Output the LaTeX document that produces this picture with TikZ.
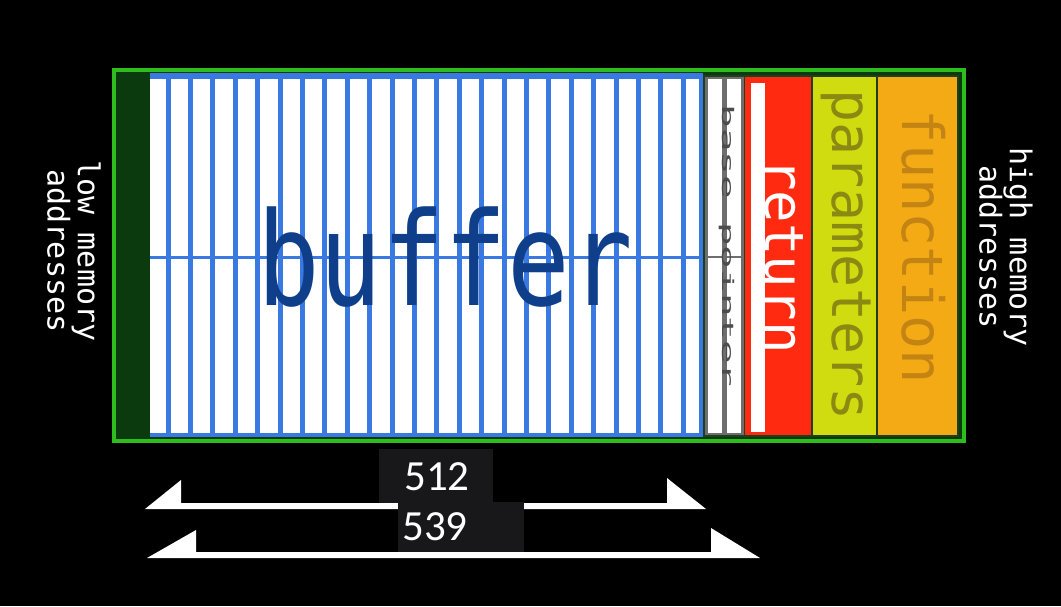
\documentclass[tikz,border=0pt]{standalone}
\usepackage{fontspec}
\setmainfont{Carlito}
\newfontfamily\monofont{DejaVu Sans Mono}
\usepackage{tikz}
\usepackage{xcolor}
\usetikzlibrary{positioning}

\definecolor{framegreen}{HTML}{2DBE1E}
\definecolor{stripgreen}{HTML}{0A3A0E}
\definecolor{sepgreen}{HTML}{1E3E1E}
\definecolor{barblue}{HTML}{3A78E2}
\definecolor{bufblue}{HTML}{0F3F8A}
\definecolor{ptrgray}{HTML}{6E6E6E}
\definecolor{retred}{HTML}{FF2A10}
\definecolor{paryellow}{HTML}{D0DC10}
\definecolor{parolive}{HTML}{8A8A12}
\definecolor{funcorange}{HTML}{F4AA14}
\definecolor{funcbrown}{HTML}{C48414}
\definecolor{boxgray}{HTML}{18181A}

\tikzset{
  vlabel/.style={rotate=-90,inner sep=0pt,anchor=base},
  sidelabel/.style={rotate=-90,inner sep=0pt,align=center,text=white,
    font=\monofont\fontsize{30}{29}\selectfont},
  column/.style={draw=sepgreen,line width=1.2pt},
  numtext/.style={text=white,inner sep=0pt,font=\fontsize{43}{43}\selectfont},
}

\begin{document}
\begin{tikzpicture}[x=1pt,y=-1pt]
\useasboundingbox (0,0) rectangle (1061,606);
\fill[black](0,0)rectangle(1061,606);
% stack frame
\fill[stripgreen](113.5,70)rectangle(964,441);
\draw[framegreen,line width=4pt](113.5,70)rectangle(964,441);
% buffer
\fill[white](150,76)rectangle(703,436);
\foreach \i in {0,...,23}
  \fill[barblue]({168+22.4*\i-2.5},76)rectangle({168+22.4*\i+2.5},436);
\fill[barblue](150,73)rectangle(703,79);
\fill[barblue](150,433)rectangle(703,437);
\fill[barblue](699,73)rectangle(703,437);
\fill[barblue](150,256)rectangle(703,258.5);
\node[inner sep=0pt,anchor=base,text=bufblue,font=\monofont\fontsize{130}{130}\selectfont]
  (buffer) at (445,305) {\scalebox{0.8}[1]{buffer}};
% base pointer
\fill[white](705,76)rectangle(744,436);
\draw[ptrgray,line width=3pt](706.5,77.5)rectangle(742.5,434.5);
\draw[ptrgray,line width=4.5pt](724.5,77)--(724.5,435);
\draw[ptrgray,line width=2pt](706,257)--(743,257);
\node[vlabel,anchor=center,text=black!70,font=\monofont\fontsize{16}{16}\selectfont]
  (bp) at (727,246) {\scalebox{2.45}[1]{base pointer}};
% return
\fill[retred](745,76)rectangle(811,436);
\fill[white](751,83)rectangle(765,432);
\node[vlabel,text=white,font=\monofont\fontsize{54}{54}\selectfont] (ret) at (765,256) {return};
% parameters and function
\filldraw[column,fill=paryellow](812,76)rectangle(877,436);
\node[vlabel,text=parolive,font=\monofont\fontsize{55}{55}\selectfont] (par) at (832,255) {parameters};
\filldraw[column,fill=funcorange](877,76)rectangle(958,436);
\node[vlabel,text=funcbrown,font=\monofont\fontsize{57}{57}\selectfont] (func) at (902,247) {function};
\draw[column](704,76)rectangle(958,436);
\draw[column](744.5,76)--(744.5,436);
% side labels
\node[sidelabel] (low) at (74,251) {low memory\\addresses};
\node[sidelabel] (high) at (1006,247) {high memory\\addresses};
% sizes
\fill[white](145,509)--(181,480)--(181,503)--(667,503)--(667,478)--(706,509)--cycle;
\fill[white](147,558)--(196,530)--(196,552)--(711,552)--(711,528)--(760,558)--cycle;
\fill[boxgray](379,449)rectangle(493,503);
\fill[boxgray](398,502)rectangle(524,552);
\node[numtext] (n512) at (437,477) {512};
\node[numtext] (n539) at (435,527) {539};
\end{tikzpicture}
\end{document}
